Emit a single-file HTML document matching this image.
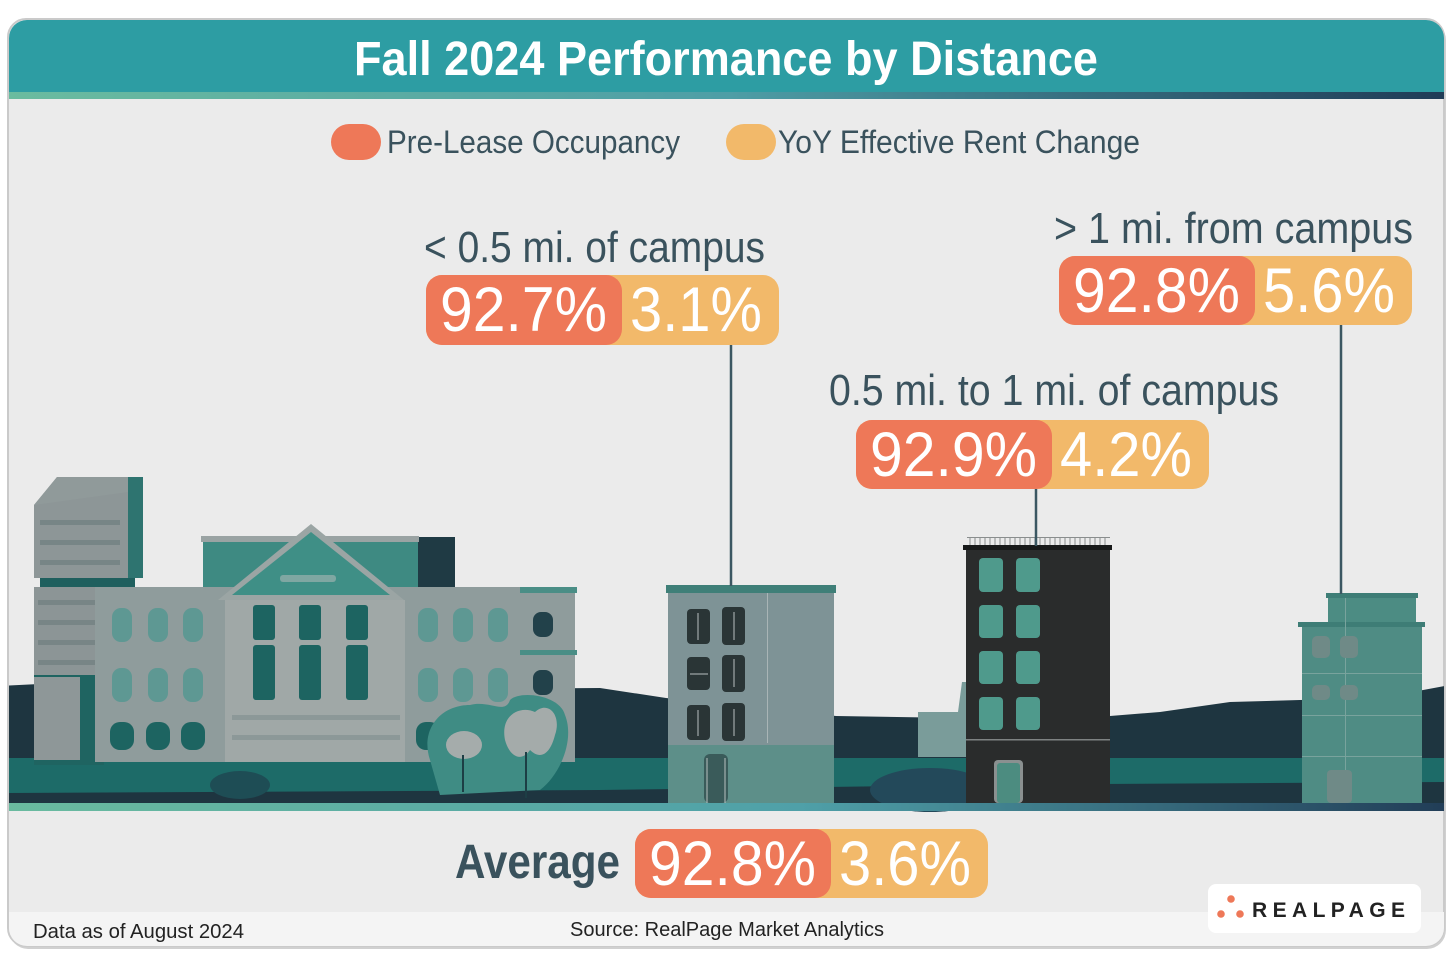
<!DOCTYPE html>
<html><head><meta charset="utf-8">
<style>
html,body{margin:0;padding:0;background:#fff;}
svg{display:block;}
text{font-family:"Liberation Sans",sans-serif;}
</style></head>
<body>
<svg width="1455" height="957" viewBox="0 0 1455 957" xmlns="http://www.w3.org/2000/svg">
<defs>
<clipPath id="card"><rect x="9" y="20" width="1435" height="926" rx="18"/></clipPath>
<linearGradient id="stripe" x1="0" x2="1" y1="0" y2="0">
<stop offset="0" stop-color="#6BBC9F"/><stop offset="0.5" stop-color="#4E9EA6"/><stop offset="1" stop-color="#1F3A55"/></linearGradient>
<linearGradient id="stripe2" x1="0" x2="1" y1="0" y2="0">
<stop offset="0" stop-color="#6ABB9F"/><stop offset="0.55" stop-color="#4FA0A8"/><stop offset="1" stop-color="#213C56"/></linearGradient>
</defs>
<!-- card shadow/border -->
<rect x="9" y="21" width="1437" height="928" rx="19" fill="#D0D0D0"/>
<rect x="8" y="19" width="1436" height="927" rx="18" fill="#EBEBEB" stroke="#CACACA" stroke-width="2"/>
<g clip-path="url(#card)">
<rect x="0" y="0" width="1455" height="92" fill="#2D9DA3"/>
<rect x="0" y="92" width="1455" height="7" fill="url(#stripe)"/>
<rect x="0" y="912" width="1455" height="40" fill="#F4F4F4"/>

<!-- SCENE -->
<!-- dark hills -->
<path d="M0,686 L120,680 L300,690 L600,688 L666,698 L836,716 L960,718 L1040,712 L1110,716 L1160,712 L1230,702 L1300,700 L1380,698 L1445,686 L1445,803 L0,803 Z" fill="#1E3540"/>
<!-- teal band -->
<path d="M0,758 L1445,758 L1445,782 L1100,784 L900,786 L600,790 L0,793 Z" fill="#1D6B68"/>

<!-- left complex -->
<polygon points="34,505 57,477 143,477 143,578 34,578" fill="#8D9697"/>
<polygon points="57,477 143,477 143,578 128,578 128,492" fill="#2E7470"/>
<polygon points="34,505 57,477 128,477 128,492 34,505" fill="#909A9A"/>
<rect x="40" y="578" width="95" height="10" fill="#1F5F5E"/>
<g fill="#6A7A7B" opacity="0.6">
<rect x="40" y="520" width="80" height="5"/><rect x="40" y="540" width="80" height="5"/><rect x="40" y="560" width="80" height="5"/>
</g>
<rect x="34" y="587" width="70" height="88" fill="#8C9596"/>
<g fill="#6B7C7D" opacity="0.6">
<rect x="38" y="600" width="58" height="5"/><rect x="38" y="620" width="58" height="5"/><rect x="38" y="640" width="58" height="5"/><rect x="38" y="660" width="58" height="5"/>
</g>
<rect x="34" y="675" width="70" height="90" fill="#1F6461"/>
<rect x="34" y="677" width="46" height="83" fill="#8E9798"/>
<!-- temple upper -->
<rect x="203" y="537" width="252" height="52" fill="#3E8A82"/>
<rect x="418" y="537" width="37" height="52" fill="#1F3A44"/>
<rect x="201" y="536" width="218" height="6" fill="#9AA3A3"/>
<!-- main facade -->
<rect x="95" y="587" width="480" height="175" fill="#8F9C9C"/>
<rect x="520" y="587" width="57" height="6" fill="#4A8E86"/>
<rect x="520" y="650" width="57" height="5" fill="#4A8E86"/>
<!-- pediment -->
<polygon points="218,600 311,524 404,600" fill="#9BA5A4"/>
<polygon points="232,595 311,532 390,595" fill="#3F8F86"/>
<rect x="280" y="575" width="56" height="7" rx="3" fill="#7FA7A2"/>
<!-- column area -->
<rect x="225" y="600" width="180" height="162" fill="#A0A8A7"/>
<g fill="#1D6461">
<rect x="253" y="605" width="22" height="35" rx="3"/><rect x="253" y="645" width="22" height="55" rx="3"/>
<rect x="299" y="605" width="22" height="35" rx="3"/><rect x="299" y="645" width="22" height="55" rx="3"/>
<rect x="346" y="605" width="22" height="35" rx="3"/><rect x="346" y="645" width="22" height="55" rx="3"/>
</g>
<g fill="#8C9898"><rect x="232" y="715" width="168" height="5"/><rect x="232" y="735" width="168" height="5"/></g>
<!-- arched windows -->
<g fill="#5E9893">
<rect x="112" y="608" width="20" height="34" rx="9"/><rect x="148" y="608" width="20" height="34" rx="9"/><rect x="183" y="608" width="20" height="34" rx="9"/>
<rect x="112" y="668" width="20" height="34" rx="9"/><rect x="148" y="668" width="20" height="34" rx="9"/><rect x="183" y="668" width="20" height="34" rx="9"/>
<rect x="418" y="608" width="20" height="34" rx="9"/><rect x="453" y="608" width="20" height="34" rx="9"/><rect x="488" y="608" width="20" height="34" rx="9"/>
<rect x="418" y="668" width="20" height="34" rx="9"/><rect x="453" y="668" width="20" height="34" rx="9"/><rect x="488" y="668" width="20" height="34" rx="9"/>
</g>
<g fill="#1D6461">
<rect x="110" y="722" width="24" height="28" rx="10"/><rect x="146" y="722" width="24" height="28" rx="10"/><rect x="181" y="722" width="24" height="28" rx="10"/>
<rect x="416" y="722" width="24" height="28" rx="10"/>
</g>
<g fill="#22414A"><rect x="533" y="612" width="20" height="25" rx="8"/><rect x="533" y="670" width="20" height="25" rx="8"/></g>
<!-- trees -->
<path d="M430,760 C420,730 440,705 470,705 C490,700 505,715 510,700 C520,690 560,695 565,715 C575,740 560,775 540,790 L440,795 Z" fill="#3F8C84"/>
<ellipse cx="464" cy="745" rx="18" ry="14" fill="#A5ACAB"/>
<path d="M505,740 C500,715 520,705 535,712 C548,700 562,715 555,735 C550,755 540,760 530,750 C522,762 510,758 505,740 Z" fill="#A4ABAA"/>
<g stroke="#1D3E45" stroke-width="2"><line x1="463" y1="755" x2="463" y2="792"/><line x1="526" y1="752" x2="526" y2="798"/></g>
<ellipse cx="240" cy="785" rx="30" ry="14" fill="#1E4D55"/>

<!-- small building left of dark -->
<polygon points="918,712 958,712 962,682 966,682 966,757 918,757" fill="#7A9C9A"/>
<!-- dark blob -->
<ellipse cx="930" cy="790" rx="60" ry="22" fill="#23495A"/>

<!-- middle building -->
<rect x="666" y="585" width="170" height="8" fill="#3F7F78"/>
<rect x="668" y="593" width="166" height="210" fill="#7E9396"/>
<rect x="668" y="745" width="166" height="58" fill="#5D8F89"/>
<rect x="767" y="593" width="1" height="150" fill="#A9B5B6"/>
<g fill="#2A3536">
<rect x="687" y="609" width="23" height="35" rx="4"/><rect x="722" y="607" width="23" height="38" rx="4"/>
<rect x="687" y="657" width="23" height="33" rx="4"/><rect x="722" y="655" width="23" height="37" rx="4"/>
<rect x="687" y="705" width="23" height="35" rx="4"/><rect x="722" y="703" width="23" height="38" rx="4"/>
</g>
<g stroke="#B8C0C0" stroke-width="1"><line x1="698" y1="613" x2="698" y2="640"/><line x1="734" y1="612" x2="734" y2="640"/><line x1="690" y1="674" x2="708" y2="674"/><line x1="734" y1="659" x2="734" y2="687"/><line x1="698" y1="710" x2="698" y2="736"/><line x1="734" y1="709" x2="734" y2="736"/></g>
<rect x="704" y="754" width="24" height="49" rx="6" fill="#3A5B5A"/>
<g stroke="#B8C0C0" stroke-width="1"><line x1="707" y1="758" x2="707" y2="803"/><line x1="725" y1="758" x2="725" y2="803"/></g>

<!-- dark building -->
<g stroke="#8A8E8E" stroke-width="1">
<line x1="967" y1="537.5" x2="1110" y2="537.5"/>
<path d="M970,537v8M975,537v8M980,537v8M985,537v8M990,537v8M995,537v8M1000,537v8M1005,537v8M1010,537v8M1015,537v8M1020,537v8M1025,537v8M1030,537v8M1035,537v8M1040,537v8M1045,537v8M1050,537v8M1055,537v8M1060,537v8M1065,537v8M1070,537v8M1075,537v8M1080,537v8M1085,537v8M1090,537v8M1095,537v8M1100,537v8M1105,537v8"/>
</g>
<rect x="963" y="545" width="149" height="5" fill="#181A1A"/>
<rect x="966" y="550" width="144" height="253" fill="#2A2C2C"/>
<g fill="#4F9A8C">
<rect x="979" y="558" width="24" height="34" rx="4"/><rect x="1016" y="558" width="24" height="34" rx="4"/>
<rect x="979" y="605" width="24" height="33" rx="4"/><rect x="1016" y="605" width="24" height="33" rx="4"/>
<rect x="979" y="651" width="24" height="33" rx="4"/><rect x="1016" y="651" width="24" height="33" rx="4"/>
<rect x="979" y="697" width="24" height="33" rx="4"/><rect x="1016" y="697" width="24" height="33" rx="4"/>
</g>
<rect x="966" y="739" width="144" height="1.5" fill="#7E8282"/>
<rect x="994" y="760" width="29" height="43" rx="4" fill="#8A9090"/>
<rect x="997" y="763" width="23" height="40" rx="3" fill="#4C8C80"/>

<!-- right building -->
<rect x="1326" y="593" width="92" height="5" fill="#3E7D76"/>
<rect x="1328" y="598" width="88" height="25" fill="#4C8C83"/>
<rect x="1298" y="622" width="127" height="5" fill="#3E7D76"/>
<rect x="1302" y="627" width="120" height="176" fill="#4F8C84"/>
<g fill="#79A39D"><rect x="1302" y="673" width="120" height="1"/><rect x="1302" y="715" width="120" height="1"/><rect x="1302" y="756" width="120" height="1"/><rect x="1345" y="598" width="1" height="205"/></g>
<g fill="#6F8A87"><rect x="1312" y="636" width="18" height="22" rx="5"/><rect x="1340" y="636" width="18" height="22" rx="5"/><rect x="1312" y="685" width="18" height="15" rx="5"/><rect x="1340" y="685" width="18" height="15" rx="5"/><rect x="1327" y="770" width="25" height="33" rx="4"/></g>

<!-- bottom stripe -->
<rect x="0" y="803" width="1455" height="8" fill="url(#stripe2)"/>
</g>

<!-- connector lines -->
<g stroke="#3B5762" stroke-width="2.5">
<line x1="731" y1="344" x2="731" y2="586"/>
<line x1="1036" y1="488" x2="1036" y2="546"/>
<line x1="1341" y1="324" x2="1341" y2="594"/>
</g>

<!-- title -->
<text x="726" y="75" text-anchor="middle" font-size="48" font-weight="bold" fill="#fff" textLength="744" lengthAdjust="spacingAndGlyphs">Fall 2024 Performance by Distance</text>

<!-- legend -->
<rect x="331" y="124" width="50" height="36" rx="18" fill="#EE7858"/>
<text x="387" y="153" font-size="32" fill="#3A525D" textLength="293" lengthAdjust="spacingAndGlyphs">Pre-Lease Occupancy</text>
<rect x="726" y="124" width="50" height="36" rx="18" fill="#F2B96A"/>
<text x="778" y="153" font-size="32" fill="#3A525D" textLength="362" lengthAdjust="spacingAndGlyphs">YoY Effective Rent Change</text>

<!-- label 1 -->
<text x="424" y="262" font-size="44" fill="#3A525D" textLength="341" lengthAdjust="spacingAndGlyphs">&lt; 0.5 mi. of campus</text>
<rect x="426" y="275" width="353" height="70" rx="16" fill="#F2B96A"/>
<rect x="426" y="275" width="196" height="70" rx="16" fill="#EE7858"/>
<text x="440" y="331" font-size="63" fill="#fff" textLength="167" lengthAdjust="spacingAndGlyphs">92.7%</text>
<text x="630" y="331" font-size="63" fill="#fff" textLength="132" lengthAdjust="spacingAndGlyphs">3.1%</text>

<!-- label 2 -->
<text x="1054" y="243" font-size="44" fill="#3A525D" textLength="359" lengthAdjust="spacingAndGlyphs">&gt; 1 mi. from campus</text>
<rect x="1059" y="256" width="353" height="69" rx="16" fill="#F2B96A"/>
<rect x="1059" y="256" width="196" height="69" rx="16" fill="#EE7858"/>
<text x="1073" y="312" font-size="63" fill="#fff" textLength="167" lengthAdjust="spacingAndGlyphs">92.8%</text>
<text x="1263" y="312" font-size="63" fill="#fff" textLength="132" lengthAdjust="spacingAndGlyphs">5.6%</text>

<!-- label 3 -->
<text x="829" y="405" font-size="44" fill="#3A525D" textLength="450" lengthAdjust="spacingAndGlyphs">0.5 mi. to 1 mi. of campus</text>
<rect x="856" y="420" width="353" height="69" rx="16" fill="#F2B96A"/>
<rect x="856" y="420" width="196" height="69" rx="16" fill="#EE7858"/>
<text x="870" y="476" font-size="63" fill="#fff" textLength="167" lengthAdjust="spacingAndGlyphs">92.9%</text>
<text x="1060" y="476" font-size="63" fill="#fff" textLength="132" lengthAdjust="spacingAndGlyphs">4.2%</text>

<!-- average -->
<text x="455" y="878" font-size="48" font-weight="bold" fill="#3A525D" textLength="165" lengthAdjust="spacingAndGlyphs">Average</text>
<rect x="635" y="829" width="353" height="69" rx="16" fill="#F2B96A"/>
<rect x="635" y="829" width="196" height="69" rx="16" fill="#EE7858"/>
<text x="649" y="885" font-size="63" fill="#fff" textLength="167" lengthAdjust="spacingAndGlyphs">92.8%</text>
<text x="839" y="885" font-size="63" fill="#fff" textLength="132" lengthAdjust="spacingAndGlyphs">3.6%</text>

<!-- footer -->
<text x="33" y="938" font-size="20" fill="#222" textLength="211" lengthAdjust="spacingAndGlyphs">Data as of August 2024</text>
<text x="570" y="936" font-size="20" fill="#222" textLength="314" lengthAdjust="spacingAndGlyphs">Source: RealPage Market Analytics</text>
<rect x="1208" y="884" width="213" height="49" rx="8" fill="#fff"/>
<circle cx="1231" cy="899" r="3.8" fill="#EE7858"/>
<circle cx="1221" cy="914" r="3.8" fill="#EE7858"/>
<circle cx="1240" cy="914" r="3.8" fill="#EE7858"/>
<text x="1252" y="917" font-size="21" font-weight="bold" fill="#222" textLength="153" lengthAdjust="spacing">REALPAGE</text>
</svg>
</body></html>
